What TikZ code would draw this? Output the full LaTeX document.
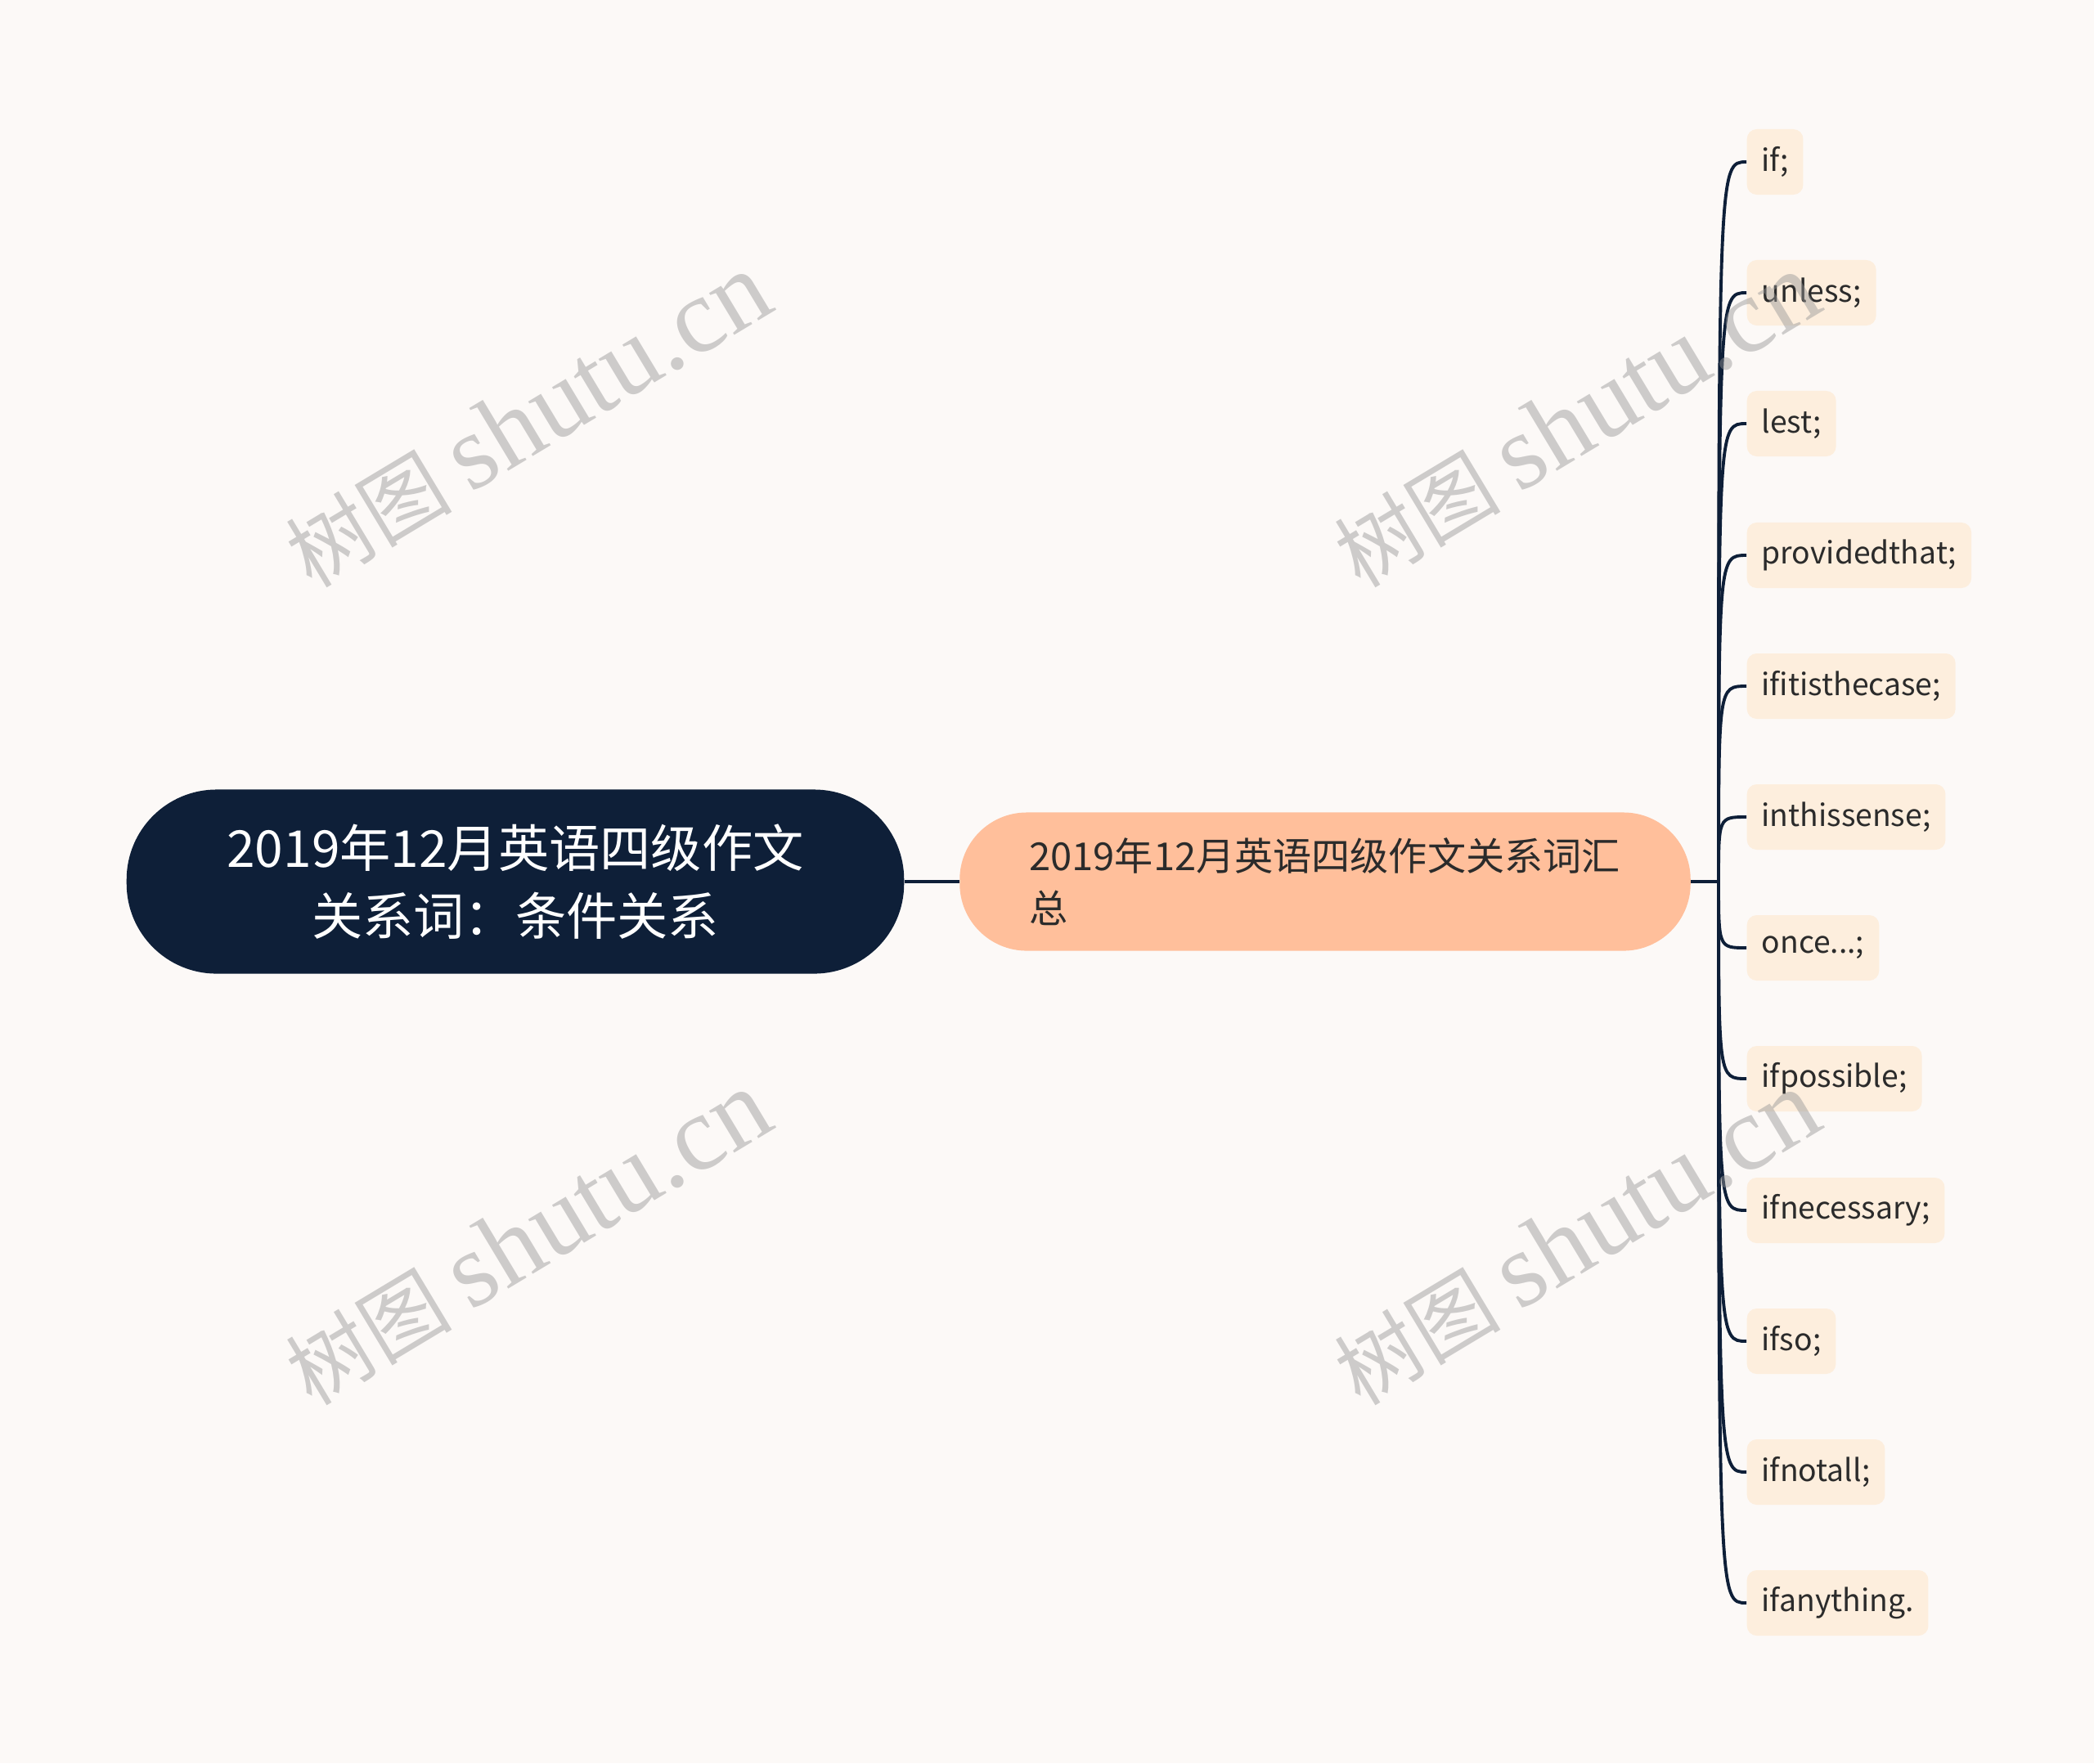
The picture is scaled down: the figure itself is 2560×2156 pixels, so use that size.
\documentclass[tikz,border=0pt]{standalone}
\usepackage{fontspec}
\setmainfont{Noto Sans CJK SC}
\newfontfamily\wmserif{Liberation Serif}
\usetikzlibrary{positioning}
\definecolor{mapbg}{HTML}{FCF9F7}
\definecolor{mapnavy}{HTML}{0E1F38}
\definecolor{mappeach}{HTML}{FFBF9B}
\definecolor{mapleaf}{HTML}{FDEEDD}
\definecolor{maptext}{HTML}{2B2B2B}

\begin{document}
\begin{tikzpicture}[
        x=0.01cm, y=-0.01cm,
        root/.style={rectangle, fill=mapnavy, text=white, align=center, minimum width=9.5cm, minimum height=2.25cm, inner sep=0pt, rounded corners=1.1cm, font=\fontsize{17.7pt}{23.6pt}\selectfont},
        topic/.style={rectangle, fill=mappeach, text=maptext, align=left, text width=7.23cm, inner xsep=0.85cm, minimum height=1.69cm, rounded corners=0.82cm, font=\fontsize{13.4pt}{18.2pt}\selectfont},
        leaf/.style={rectangle, fill=mapleaf, text=maptext, anchor=west, minimum height=0.8cm, inner xsep=0.18cm, rounded corners=0.12cm, font=\fontsize{10.6pt}{13pt}\selectfont},
        link/.style={draw=mapnavy, line width=1.1pt},
        watermark/.style={text=black!42, opacity=0.45, rotate=31, inner sep=0pt}
    ]
    \fill[mapbg] (0,0) rectangle (2560,2156);

    \node[root] (root) at (630,1078) {2019年12月英语四级作文\\关系词：条件关系};
    \node[topic] (topic) at (1620,1078) {2019年12月英语四级作文关系词汇\\总};
    \coordinate (hub) at (2101,1078);

    \node[leaf] (if) at (2135,198) {if;};
    \node[leaf] (unless) at (2135,358) {unless;};
    \node[leaf] (lest) at (2135,518) {lest;};
    \node[leaf] (provided) at (2135,679) {providedthat;};
    \node[leaf] (thecase) at (2135,839) {ifitisthecase;};
    \node[leaf] (sense) at (2135,999) {inthissense;};
    \node[leaf] (once) at (2135,1159) {once...;};
    \node[leaf] (possible) at (2135,1319) {ifpossible;};
    \node[leaf] (necessary) at (2135,1480) {ifnecessary;};
    \node[leaf] (ifso) at (2135,1640) {ifso;};
    \node[leaf] (notall) at (2135,1800) {ifnotall;};
    \node[leaf] (anything) at (2135,1960) {ifanything.};

    \draw[link, line width=1.4pt] (root) -- (topic);
    \draw[link] (topic.east) -- (hub);
    \draw[link] (hub) .. controls (hub |- if.west) .. (if.west);
    \draw[link] (hub) .. controls (hub |- unless.west) .. (unless.west);
    \draw[link] (hub) .. controls (hub |- lest.west) .. (lest.west);
    \draw[link] (hub) .. controls (hub |- provided.west) .. (provided.west);
    \draw[link] (hub) .. controls (hub |- thecase.west) .. (thecase.west);
    \draw[link] (hub) .. controls (hub |- sense.west) .. (sense.west);
    \draw[link] (hub) .. controls (hub |- once.west) .. (once.west);
    \draw[link] (hub) .. controls (hub |- possible.west) .. (possible.west);
    \draw[link] (hub) .. controls (hub |- necessary.west) .. (necessary.west);
    \draw[link] (hub) .. controls (hub |- ifso.west) .. (ifso.west);
    \draw[link] (hub) .. controls (hub |- notall.west) .. (notall.west);
    \draw[link] (hub) .. controls (hub |- anything.west) .. (anything.west);

    % watermarks
    \node[watermark] (wm1) at (645,514) {\fontsize{29pt}{29pt}\selectfont 树图 \wmserif\fontsize{37pt}{37pt}\selectfont shutu.cn};
    \node[watermark] (wm2) at (1927,514) {\fontsize{29pt}{29pt}\selectfont 树图 \wmserif\fontsize{37pt}{37pt}\selectfont shutu.cn};
    \node[watermark] (wm3) at (645,1514) {\fontsize{29pt}{29pt}\selectfont 树图 \wmserif\fontsize{37pt}{37pt}\selectfont shutu.cn};
    \node[watermark] (wm4) at (1927,1514) {\fontsize{29pt}{29pt}\selectfont 树图 \wmserif\fontsize{37pt}{37pt}\selectfont shutu.cn};
\end{tikzpicture}
\end{document}
